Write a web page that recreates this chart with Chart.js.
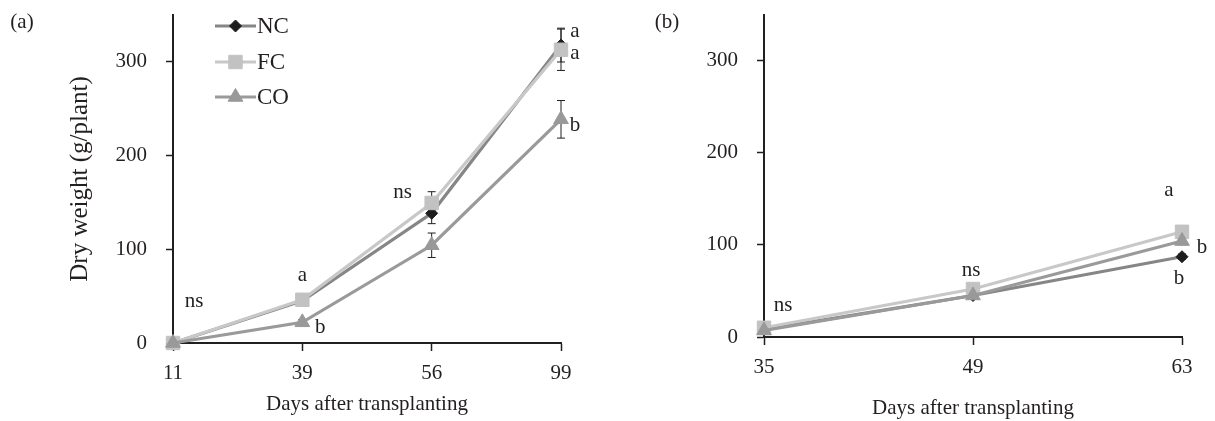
<!DOCTYPE html>
<html>
<head>
<meta charset="utf-8">
<script src="https://cdn.jsdelivr.net/npm/chart.js@4.4.1/dist/chart.umd.min.js"></script>
<style>
  html, body { margin: 0; padding: 0; background: #fff; }
  #wrap { position: relative; width: 1215px; height: 421px; }
  .panel { position: absolute; top: 0; height: 421px; }
  #pa { left: 0; width: 600px; }
  #pb { left: 600px; width: 615px; }
</style>
</head>
<body>
<div id="wrap">
  <div class="panel" id="pa"><canvas id="chartA"></canvas></div>
  <div class="panel" id="pb"><canvas id="chartB"></canvas></div>
</div>
<script>
// Dados (peso seco, g/planta)
const seriesNames = ['NC', 'FC', 'CO'];

// Painel (a)
const daysA = ['11', '39', '56', '99'];
const ncA = [0, 45, 138, 317];
const fcA = [0, 46, 149, 312];
const coA = [0, 22, 104, 238];
const ncErrA = [0, 3, 11, 18];
const fcErrA = [0, 3, 12, 22];
const coErrA = [0, 3, 13, 20];

// Painel (b)
const daysB = ['35', '49', '63'];
const ncB = [8, 45, 87];
const fcB = [10, 52, 114];
const coB = [7, 45, 104];
const ncErrB = [2, 3, 3];
const fcErrB = [2, 3, 6];
const coErrB = [2, 3, 4];

const yTicks = [0, 100, 200, 300];
const yMax = 349;

// Letras de significância (índice da categoria, valor no eixo y, deslocamento em px)
const notesA = [
  { text: 'ns', i: 0, v: 44, dx: 21 },
  { text: 'a', i: 1, v: 72, dx: 0 },
  { text: 'b', i: 1, v: 16, dx: 18 },
  { text: 'ns', i: 2, v: 160, dx: -29 },
  { text: 'a', i: 3, v: 331, dx: 14 },
  { text: 'a', i: 3, v: 308, dx: 14 },
  { text: 'b', i: 3, v: 231, dx: 14 }
];
const notesB = [
  { text: 'ns', i: 0, v: 34, dx: 19 },
  { text: 'ns', i: 1, v: 72, dx: -2 },
  { text: 'a', i: 2, v: 159, dx: -13 },
  { text: 'b', i: 2, v: 97, dx: 20 },
  { text: 'b', i: 2, v: 63, dx: -3 }
];

const FONT = "'Liberation Serif', 'Times New Roman', serif";
const INK = '#231f20';

// Estilo de cada série
const styles = {
  NC: { line: '#868686', fill: '#1e1e1e', point: 'rectRot', radius: 6, order: 3 },
  FC: { line: '#c8c8c8', fill: '#c2c2c2', point: 'rect', radius: 9.5, order: 2 },
  CO: { line: '#9a9a9a', fill: '#999999', point: 'triangle', radius: 8.5, order: 1 }
};

function makeDataset(name, data, errors) {
  const s = styles[name];
  return {
    label: name,
    data,
    errors,
    borderColor: s.line,
    borderWidth: 3.2,
    pointStyle: s.point,
    pointRadius: s.radius,
    pointBackgroundColor: s.fill,
    pointBorderColor: s.fill,
    pointBorderWidth: 1,
    tension: 0,
    clip: false,
    order: s.order
  };
}

// Plugin: barras de erro, letras, legenda e rótulo do painel
const extrasPlugin = {
  id: 'extras',
  beforeDatasetsDraw(chart) {
    const ctx = chart.ctx;
    const y = chart.scales.y;
    ctx.save();
    ctx.strokeStyle = INK;
    ctx.lineWidth = 1;
    chart.data.datasets.forEach((ds, i) => {
      const meta = chart.getDatasetMeta(i);
      ds.errors.forEach((e, j) => {
        if (!e) return;
        const x = meta.data[j].x;
        const top = y.getPixelForValue(ds.data[j] + e);
        const bot = y.getPixelForValue(ds.data[j] - e);
        ctx.beginPath();
        ctx.moveTo(x, top); ctx.lineTo(x, bot);
        ctx.moveTo(x - 4, top); ctx.lineTo(x + 4, top);
        ctx.moveTo(x - 4, bot); ctx.lineTo(x + 4, bot);
        ctx.stroke();
      });
    });
    ctx.restore();
  },
  afterDraw(chart, args, opts) {
    const ctx = chart.ctx;
    const xs = chart.scales.x, ys = chart.scales.y;
    ctx.save();
    ctx.fillStyle = INK;
    ctx.textAlign = 'center';
    ctx.textBaseline = 'middle';
    ctx.font = '21px ' + FONT;
    (opts.notes || []).forEach(n => {
      ctx.fillText(n.text, xs.getPixelForValue(n.i) + n.dx, ys.getPixelForValue(n.v));
    });

    // Rótulo do painel
    ctx.font = '21px ' + FONT;
    ctx.fillText(opts.panel, opts.panelX, 22);

    // Legenda desenhada manualmente (linha + marcador)
    if (opts.legend) {
      const rows = [26, 62, 97];
      ctx.font = '23px ' + FONT;
      ctx.textAlign = 'left';
      seriesNames.forEach((name, k) => {
        const s = styles[name];
        const yy = rows[k];
        ctx.strokeStyle = s.line;
        ctx.lineWidth = 3.2;
        ctx.beginPath();
        ctx.moveTo(215, yy); ctx.lineTo(256, yy);
        ctx.stroke();
        ctx.fillStyle = s.fill;
        ctx.strokeStyle = s.fill;
        ctx.lineWidth = 1;
        Chart.helpers.drawPoint(ctx, { pointStyle: s.point, radius: s.radius, rotation: 0, borderWidth: 1 }, 235.5, yy);
        ctx.fillStyle = INK;
        ctx.fillText(name, 257, yy + 1);
      });
    }
    ctx.restore();
  }
};

function createPanel(canvasId, labels, datasets, cfg) {
  const ctx = document.getElementById(canvasId).getContext('2d');
  return new Chart(ctx, {
    type: 'line',
    data: { labels, datasets },
    plugins: [extrasPlugin],
    options: {
      responsive: true,
      maintainAspectRatio: false,
      animation: false,
      layout: { padding: cfg.padding },
      plugins: {
        legend: { display: false },
        tooltip: { enabled: false },
        extras: { notes: cfg.notes, panel: cfg.panel, panelX: cfg.panelX, legend: cfg.legend }
      },
      scales: {
        x: {
          type: 'category',
          offset: false,
          afterFit(scale) { scale.height = cfg.xHeight; },
          grid: { display: true, drawOnChartArea: false, tickLength: 8, tickColor: INK, tickWidth: 1.5 },
          border: { color: INK, width: 2 },
          ticks: { color: INK, padding: 10, font: { family: FONT, size: 21 } },
          title: {
            display: true,
            text: 'Days after transplanting',
            color: INK,
            font: { family: FONT, size: 21 },
            padding: { top: 4, bottom: cfg.xTitlePad }
          }
        },
        y: {
          min: 0,
          max: yMax,
          afterFit(scale) {
            scale.width = cfg.yWidth;
            scale.paddingTop = 0; // sem folga extra acima do eixo
          },
          afterBuildTicks(scale) { scale.ticks = yTicks.map(v => ({ value: v })); },
          grid: { display: true, drawOnChartArea: false, tickLength: 7, tickColor: INK, tickWidth: 1.5 },
          border: { color: INK, width: 2 },
          ticks: { color: INK, padding: 19, font: { family: FONT, size: 21 } },
          title: {
            display: cfg.yTitle,
            text: 'Dry weight (g/plant)',
            color: INK,
            font: { family: FONT, size: 25 },
            padding: { top: 3, bottom: 4 }
          }
        }
      }
    }
  });
}

createPanel('chartA', daysA, [
  makeDataset('NC', ncA, ncErrA),
  makeDataset('FC', fcA, fcErrA),
  makeDataset('CO', coA, coErrA)
], {
  padding: { left: 62, top: 15, right: 39, bottom: 0 },
  yWidth: 111, xHeight: 78, xTitlePad: 4, yTitle: true,
  notes: notesA, panel: '(a)', panelX: 22, legend: true
});

createPanel('chartB', daysB, [
  makeDataset('NC', ncB, ncErrB),
  makeDataset('FC', fcB, fcErrB),
  makeDataset('CO', coB, coErrB)
], {
  padding: { left: 0, top: 15, right: 33, bottom: 0 },
  yWidth: 164, xHeight: 84, xTitlePad: 0, yTitle: false,
  notes: notesB, panel: '(b)', panelX: 67, legend: false
});
</script>
</body>
</html>
